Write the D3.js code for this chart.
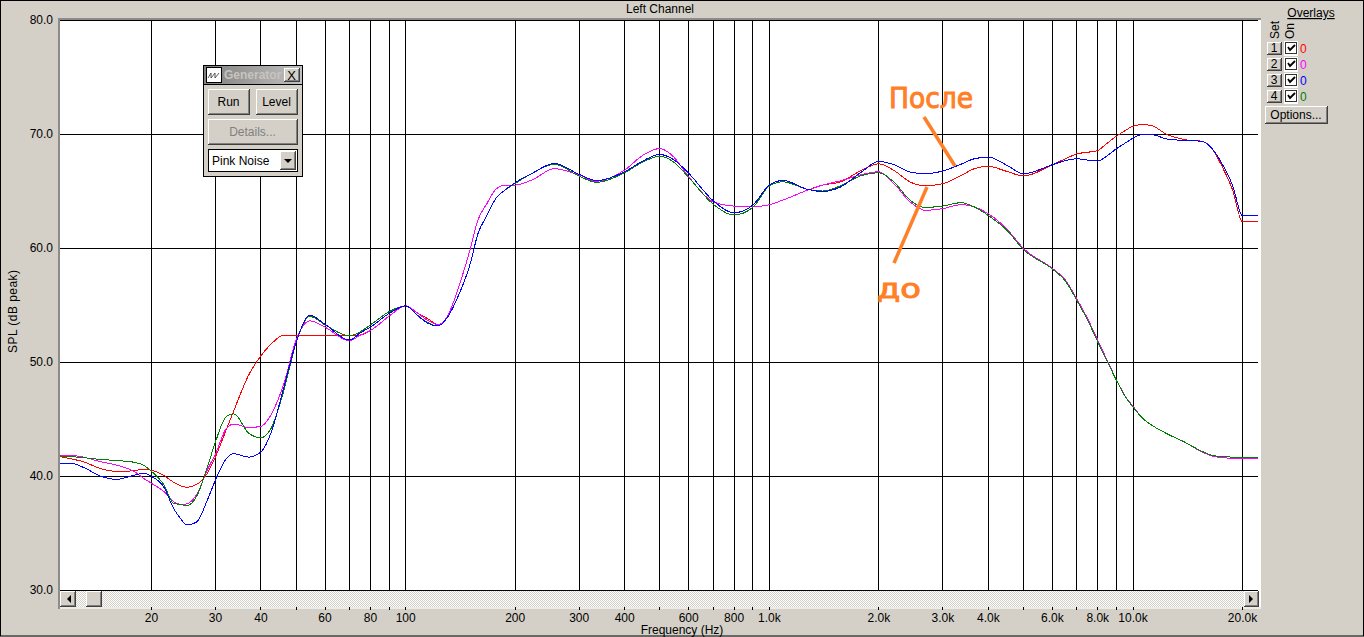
<!DOCTYPE html>
<html><head><meta charset="utf-8">
<script src="https://cdn.jsdelivr.net/npm/d3@7"></script>
<style>
html,body{margin:0;padding:0;background:#D4D0C8;overflow:hidden}
svg{display:block}
text{font-family:"Liberation Sans",Arial,sans-serif;font-size:12px;fill:#000}
</style></head><body><svg id="c" width="1364" height="637"></svg>
<script>
const frequencies=[11.2,12,13,14.45,16,17.9,19,20,21.6,23,24,25,26.6,28.5,30,32.1,33.7,37,40,42.6,46.3,50,54.5,60,70,75,80,90,100,107.6,114.9,122.5,130.5,139.8,150.6,158,167.3,177,187,200,224,256,300,335,400,450,500,545,600,700,800,900,1000,1090,1270,1400,1570,1790,2000,2200,2440,2680,3000,3370,3660,4000,4500,5000,6000,6500,7000,7540,8000,8460,9000,9520,10000,10630,11200,12400,13800,15500,16500,17600,18800,20000,22060];
const redValues=[41.75,41.55,41.3,40.7,40.45,40.5,40.65,40.55,40.1,39.5,39.2,39.05,39.3,40.3,41.75,44.1,45.8,48.9,50.6,51.6,52.4,52.4,52.35,52.35,52.37,52.4,52.8,54.06,54.97,54.35,53.85,53.33,54.1,56.6,60,62.5,63.95,65.2,65.55,65.56,66.06,67,66.45,65.9,66.88,68.2,68.77,68.05,66.3,64.1,63.72,63.67,63.84,64.25,65.1,65.56,65.85,66.85,67.43,66.85,65.83,65.5,65.69,66.4,67,67.2,66.76,66.36,67.35,67.85,68.3,68.45,68.6,69.2,69.85,70.35,70.73,70.87,70.8,70,69.56,69.4,68.75,67.15,65.1,62.33,62.33];
const magentaValues=[41.85,41.85,41.7,41.3,41,40.45,39.85,39.4,38.7,37.8,37.55,37.6,38.4,40.6,42,44.2,44.6,44.3,44.4,45.4,48.2,52,53.65,53.1,51.9,52.4,52.8,54.06,54.97,54.35,53.7,53.33,54.1,56.6,60,62.5,63.95,65.2,65.55,65.56,66.06,67,66.45,65.9,66.88,68.2,68.77,68.05,66.3,64.1,63.72,63.67,63.84,64.25,65.1,65.56,65.94,66.47,66.73,65.69,64.08,63.35,63.5,63.85,63.65,63.05,61.7,60,58.25,57.3,55.6,53.7,51.96,50.3,48.5,47.05,46.15,45.1,44.55,43.75,43.05,42.15,41.8,41.65,41.6,41.58,41.58];
const blueValues=[41.15,41.15,40.8,40.05,39.75,40.1,40.3,40,39.1,37.2,36.35,35.75,36,37.95,39.7,41.55,42,41.7,42.15,43.8,47.9,51.8,54.15,53.35,51.96,52.6,53.1,54.3,54.97,54.15,53.45,53.2,54,55.9,58.7,61.3,62.9,64.4,65.1,65.77,66.64,67.46,66.5,65.95,66.73,67.7,68.25,67.8,66.6,64.2,63.14,63.8,65.56,65.97,65.2,65,65.4,66.7,67.64,67.35,66.7,66.56,66.8,67.4,67.87,68.02,67.3,66.56,67.35,67.7,67.87,67.75,67.67,68.1,68.75,69.25,69.68,70,70,69.6,69.48,69.4,68.75,67.4,65.5,62.86,62.86];
const greenValues=[41.8,41.75,41.65,41.5,41.4,41.25,41,40.45,39.3,37.65,37.55,37.45,38.25,40.85,43.05,45.25,45.5,43.8,43.4,44.2,47.6,51.8,54.05,53.3,52.34,52.7,53.3,54.45,54.97,54.15,53.5,53.2,54,55.9,58.7,61.3,62.9,64.4,65.1,65.7,66.64,67.4,66.35,65.8,66.65,67.6,68.1,67.6,66.23,63.9,62.94,63.6,65.48,65.85,65.2,65.04,65.5,66.4,66.65,65.83,64.23,63.6,63.73,64.02,63.65,62.9,61.6,59.9,58.2,57.2,55.47,53.57,51.8,50.2,48.45,47,46.1,45.1,44.55,43.75,43.05,42.2,41.85,41.75,41.7,41.67,41.67];
const seriesColors=["#FF0000","#FF00FF","#008000","#0000FF"];
const yTicks=[30,40,50,60,70,80];
const xTicks=[20,30,40,50,60,70,80,90,100,200,300,400,500,600,700,800,900,1000,2000,3000,4000,5000,6000,7000,8000,9000,10000,20000];
const xLabels={20:"20",30:"30",40:"40",60:"60",80:"80",100:"100",200:"200",300:"300",400:"400",600:"600",800:"800",1000:"1.0k",2000:"2.0k",3000:"3.0k",4000:"4.0k",6000:"6.0k",8000:"8.0k",10000:"10.0k",20000:"20.0k"};
const overlayRows=["1","2","3","4"];
const overlayColors=["#FF0000","#FF00FF","#0000FF","#008000"];

const BG="#D4D0C8";
const svg=d3.select("#c");
const x=d3.scaleLog().domain([20,20000]).range([151,1242]);
const y=d3.scaleLinear().domain([30,80]).range([590,20]);
const L=60,R=1258,T=20,B=590;

svg.append("rect").attr("x",0.5).attr("y",0.5).attr("width",1363).attr("height",635.5).attr("fill",BG).attr("stroke","#000");
// frame
svg.append("rect").attr("x",58).attr("y",18).attr("width",1203).attr("height",591).attr("fill","#808080").attr("opacity",.85);
svg.append("rect").attr("x",60).attr("y",20).attr("width",1201).attr("height",589).attr("fill","#fff");

const defs=svg.append("defs");
const pat=defs.append("pattern").attr("id","dither").attr("width",2).attr("height",2).attr("patternUnits","userSpaceOnUse");
pat.append("rect").attr("width",2).attr("height",2).attr("fill","#fff");
pat.append("rect").attr("width",1).attr("height",1).attr("fill",BG);
pat.append("rect").attr("x",1).attr("y",1).attr("width",1).attr("height",1).attr("fill",BG);
defs.append("clipPath").attr("id","plot").append("rect").attr("x",L).attr("y",T).attr("width",R-L).attr("height",B-T);
const grad=defs.append("linearGradient").attr("id","title");
grad.append("stop").attr("offset",0).attr("stop-color","#808080");
grad.append("stop").attr("offset",1).attr("stop-color","#C0C0C0");

// scrollbar + bottom strip
svg.append("rect").attr("x",60).attr("y",591).attr("width",1198).attr("height",16).attr("fill","url(#dither)");
svg.append("rect").attr("x",60).attr("y",607).attr("width",1201).attr("height",2).attr("fill","#EDEBE6");

// grid
const gx=svg.append("g").attr("transform",`translate(0,${B+0.5})`).call(d3.axisTop(x).tickValues(xTicks).tickSize(B-T).tickFormat(""));
gx.select(".domain").remove();
gx.selectAll("line").attr("stroke","#000").attr("shape-rendering","crispEdges");
const gy=svg.append("g").attr("transform",`translate(${L},0)`).call(d3.axisRight(y).tickValues(yTicks).tickSize(R-L).tickFormat(""));
gy.select(".domain").remove();
gy.selectAll("line").attr("stroke","#000").attr("shape-rendering","crispEdges");

// axes
const ax=svg.append("g").attr("transform","translate(0,607)").call(d3.axisBottom(x).tickValues(xTicks).tickSize(3).tickPadding(3).tickFormat(d=>xLabels[d]||""));
ax.select(".domain").remove();
ax.selectAll("line").attr("stroke","#000").attr("shape-rendering","crispEdges");
ax.selectAll("text").attr("fill","#000").style("font-family",'"Liberation Sans",Arial,sans-serif').style("font-size","12px");
const ay=svg.append("g").attr("transform","translate(60,0)").call(d3.axisLeft(y).tickValues(yTicks).tickSize(0).tickPadding(7).tickFormat(d3.format(".1f")));
ay.select(".domain").remove();
ay.selectAll("text").attr("fill","#000").style("font-family",'"Liberation Sans",Arial,sans-serif').style("font-size","12px");

// series
const line=d3.line().x((d,i)=>x(frequencies[i])+0.5).y(d=>y(d)+0.5).curve(d3.curveMonotoneX);
const plot=svg.append("g").attr("clip-path","url(#plot)");
[redValues,magentaValues,greenValues,blueValues].forEach((s,i)=>{
  plot.append("path").attr("d",line(s)).attr("fill","none").attr("stroke",seriesColors[i]).attr("stroke-width",1).attr("shape-rendering","crispEdges");
});

// titles
svg.append("text").attr("x",660).attr("y",13).attr("text-anchor","middle").text("Left Channel");
svg.append("text").attr("x",682).attr("y",634).attr("text-anchor","middle").text("Frequency (Hz)");
svg.append("text").attr("transform","translate(17,311.5) rotate(-90)").attr("text-anchor","middle").attr("textLength",83).text("SPL (dB peak)");

// bevel helper
function bevel(g,x0,y0,w,h,txt,opt={}){
  g.append("rect").attr("x",x0).attr("y",y0).attr("width",w).attr("height",h).attr("fill","#404040");
  g.append("rect").attr("x",x0).attr("y",y0).attr("width",w-1).attr("height",h-1).attr("fill","#fff");
  g.append("rect").attr("x",x0+1).attr("y",y0+1).attr("width",w-2).attr("height",h-2).attr("fill","#808080");
  g.append("rect").attr("x",x0+1).attr("y",y0+1).attr("width",w-3).attr("height",h-3).attr("fill",BG);
  if(txt){
    const t=g.append("text").attr("x",x0+w/2-0.5).attr("y",y0+h/2+3.5).attr("text-anchor","middle").text(txt);
    if(opt.disabled) t.style("fill","#808080");
  }
}
const tri=(g,pts)=>g.append("polygon").attr("points",pts).attr("fill","#000");

// scroll buttons
const sb=svg.append("g");
bevel(sb,60,591,16,16);tri(sb,"71,595 71,603 67,599");
bevel(sb,86,591,16,16);
bevel(sb,1244,591,15,16);tri(sb,"1249,595 1249,603 1253,599");

// generator
const g=svg.append("g");
g.append("rect").attr("x",203.5).attr("y",65.5).attr("width",99).attr("height",111).attr("fill",BG).attr("stroke","#000");
g.append("rect").attr("x",204).attr("y",66).attr("width",98).attr("height",18).attr("fill","url(#title)");
g.append("line").attr("x1",204).attr("x2",302).attr("y1",84.5).attr("y2",84.5).attr("stroke","#000");
g.append("rect").attr("x",206.5).attr("y",67.5).attr("width",15).attr("height",15).attr("fill","#fff").attr("stroke","#000");
g.append("path").attr("d","M208 78L211 73L211 78L215 73L215 78L219 73").attr("fill","none").attr("stroke","#333").attr("stroke-width",.8);
g.append("text").attr("x",224).attr("y",79).style("fill","#C8C4BC").style("font-weight","bold").text("Generator");
bevel(g,284,68,16,14);
g.append("text").attr("x",291.5).attr("y",79.5).attr("text-anchor","middle").style("font-size","13px").text("X");
bevel(g,208,89,42,26,"Run");
bevel(g,256,89,42,26,"Level");
bevel(g,208,119,90,26,"Details...",{disabled:true});
g.append("rect").attr("x",208.5).attr("y",149.5).attr("width",89).attr("height",22).attr("fill","#fff").attr("stroke","#000");
g.append("text").attr("x",212).attr("y",165).text("Pink Noise");
bevel(g,280,151,16,19);tri(g,"284,159 292,159 288,163");

// overlays
const o=svg.append("g");
o.append("text").attr("x",1311).attr("y",17).attr("text-anchor","middle").attr("text-decoration","underline").text("Overlays");
o.append("text").attr("transform","translate(1279,39) rotate(-90)").text("Set");
o.append("text").attr("transform","translate(1294,39) rotate(-90)").text("On");
overlayRows.forEach((r,i)=>{
  const yy=42+i*16;
  bevel(o,1267,yy,15,13,r);
  o.append("rect").attr("x",1284).attr("y",yy-1).attr("width",14).attr("height",15).attr("fill","#fff");
  o.append("rect").attr("x",1285.5).attr("y",yy+.5).attr("width",11).attr("height",11).attr("fill","#fff").attr("stroke","#333");
  o.append("path").attr("d",`M1288 ${yy+5}L1290 ${yy+8}L1295 ${yy+3}`).attr("fill","none").attr("stroke","#000").attr("stroke-width",1.8);
  o.append("text").attr("x",1300).attr("y",yy+11).style("fill",overlayColors[i]).text("0");
});
bevel(o,1265,106,63,18,"Options...");

// hand annotations
const orange="#FF7F27";
const a=svg.append("g");
a.append("line").attr("x1",924).attr("y1",117).attr("x2",955).attr("y2",166).attr("stroke",orange).attr("stroke-width",3.5);
a.append("line").attr("x1",927).attr("y1",187).attr("x2",894).attr("y2",263).attr("stroke",orange).attr("stroke-width",3.5);
a.append("text").attr("x",889).attr("y",108).attr("textLength",84).attr("lengthAdjust","spacingAndGlyphs").style("font-size","28px").style("font-family",'"DejaVu Sans",sans-serif').style("fill",orange).style("stroke",orange).style("stroke-width",1).text("После");
a.append("text").attr("x",877).attr("y",298).attr("textLength",44).attr("lengthAdjust","spacingAndGlyphs").style("font-size","27px").style("font-family",'"DejaVu Sans",sans-serif').style("fill",orange).style("stroke",orange).style("stroke-width",1).text("до");
</script></body></html>
